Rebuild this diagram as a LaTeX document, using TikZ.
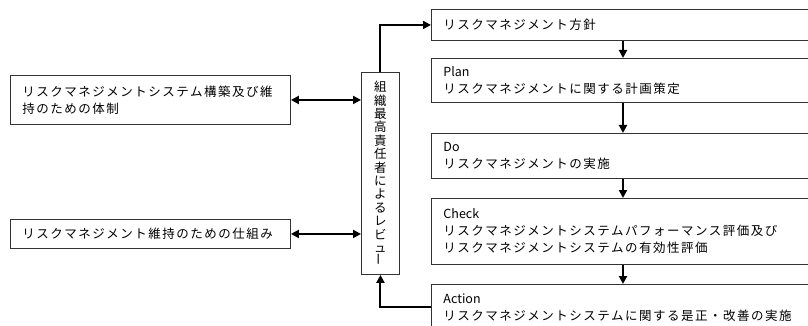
\documentclass[tikz,border=0pt]{standalone}
\usepackage{fontspec}
\setmainfont{Noto Sans CJK JP}[LetterSpace=12]
\newcommand{\lat}[1]{{\addfontfeatures{LetterSpace=0}#1}}
\usetikzlibrary{arrows.meta}
\tikzset{
  box/.style={draw=black!80, line width=0.9pt, fill=white, anchor=north west,
    inner xsep=12pt, inner ysep=0pt, align=left,
    font=\fontsize{12.5}{17}\selectfont},
  arr/.style={draw=black, line width=2pt, -{Triangle[length=8pt,width=8pt]}},
  darr/.style={draw=black, line width=2pt, {Triangle[length=8pt,width=8pt]}-{Triangle[length=8pt,width=8pt]}}
}
\begin{document}
\begin{tikzpicture}[x=1pt,y=-1pt]
\useasboundingbox (0,0) rectangle (808,326);
\clip (0,0) rectangle (808,326);
\node[box, minimum width=420pt, minimum height=31pt, text width=396pt] (policy) at (431,9) {リスクマネジメント方針};
\node[box, minimum width=420pt, minimum height=44pt, text width=396pt] (plan) at (431,58) {\lat{Plan}\\リスクマネジメントに関する計画策定};
\node[box, minimum width=420pt, minimum height=45pt, text width=396pt] (do) at (431,133) {\lat{Do}\\リスクマネジメントの実施};
\node[box, minimum width=420pt, minimum height=66pt, text width=396pt] (check) at (431,198) {\lat{Check}\\リスクマネジメントシステムパフォーマンス評価及び\\リスクマネジメントシステムの有効性評価};
\node[box, minimum width=420pt, minimum height=46pt, text width=396pt] (action) at (431,284) {\lat{Action}\\リスクマネジメントシステムに関する是正・改善の実施};
\node[box, minimum width=280pt, minimum height=49pt, text width=256pt] (left1) at (10,75) {リスクマネジメントシステム構築及び維\\持のための体制};
\node[box, minimum width=280pt, minimum height=29pt, text width=256pt] (left2) at (10,219) {リスクマネジメント維持のための仕組み};
\node[box, minimum width=38pt, minimum height=202pt, inner xsep=0pt, align=center,
  font=\fontsize{12.5}{13.4}\selectfont\addfontfeatures{LetterSpace=0}] (review) at (361,72)
  {組\\織\\最\\高\\責\\任\\者\\に\\よ\\る\\レ\\ビ\\ュ\\\rotatebox{90}{ー}};
\coordinate (colx) at (623,0);
\draw[arr] (policy.south -| colx) -- (plan.north -| colx);
\draw[arr] (plan.south -| colx) -- (do.north -| colx);
\draw[arr] (do.south -| colx) -- (check.north -| colx);
\draw[arr] (check.south -| colx) -- (action.north -| colx);
\draw[arr] (review.north) |- (policy.west);
\draw[arr] (action.west) -| (review.south);
\draw[darr] (left1.east) -- (left1.east -| review.west);
\draw[darr] (left2.east) -- (left2.east -| review.west);
\end{tikzpicture}
\end{document}
